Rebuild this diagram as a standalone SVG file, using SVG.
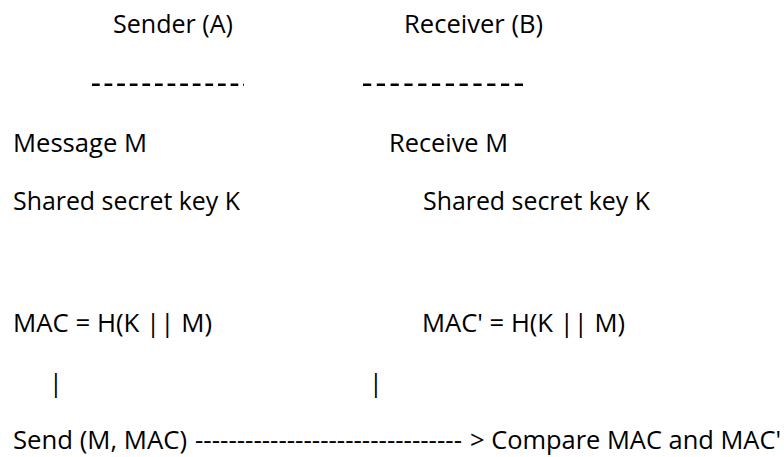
<svg xmlns="http://www.w3.org/2000/svg" width="784" height="457" viewBox="0 0 784 457">
  <style>
    text { font-family: "Open Sans", "Liberation Sans", sans-serif; font-size: 25px; fill: #000; }
    .rule { stroke: #000; stroke-width: 2.4; fill: none; }
  </style>
  <rect x="0" y="0" width="784" height="457" fill="#fff"/>
  <g id="sender">
    <text x="113" y="33" textLength="120" lengthAdjust="spacingAndGlyphs">Sender (A)</text>
    <line class="rule" x1="92" y1="84.7" x2="244" y2="84.7" stroke-dasharray="7.7 4.9"/>
    <text x="13" y="152" textLength="134" lengthAdjust="spacingAndGlyphs">Message M</text>
    <text x="13" y="210" textLength="227" lengthAdjust="spacingAndGlyphs">Shared secret key K</text>
    <text x="13" y="332" textLength="199" lengthAdjust="spacingAndGlyphs">MAC = H(K || M)</text>
  </g>
  <g id="receiver">
    <text x="404" y="33" textLength="139" lengthAdjust="spacingAndGlyphs">Receiver (B)</text>
    <line class="rule" x1="363" y1="84.7" x2="525" y2="84.7" stroke-dasharray="8.2 5.6"/>
    <text x="389" y="152" textLength="119" lengthAdjust="spacingAndGlyphs">Receive M</text>
    <text x="423" y="210" textLength="227" lengthAdjust="spacingAndGlyphs">Shared secret key K</text>
    <text x="422" y="332" textLength="203" lengthAdjust="spacingAndGlyphs">MAC' = H(K || M)</text>
  </g>
  <g id="connectors">
    <text x="49" y="392">|</text>
    <text x="369" y="392">|</text>
  </g>
  <g id="exchange">
    <text y="449"><tspan x="13" textLength="174" lengthAdjust="spacingAndGlyphs">Send (M, MAC)</tspan><tspan x="195" textLength="267" lengthAdjust="spacingAndGlyphs">--------------------------------</tspan><tspan x="470" textLength="311" lengthAdjust="spacingAndGlyphs">&gt; Compare MAC and MAC'</tspan></text>
  </g>
</svg>
